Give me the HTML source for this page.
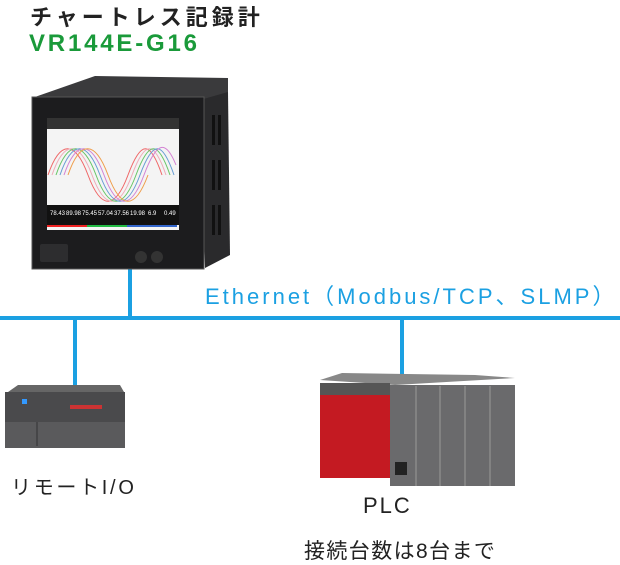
<!DOCTYPE html>
<html><head><meta charset="utf-8"><style>
body{margin:0;width:620px;height:559px;background:#fff;position:relative;overflow:hidden;font-family:"Liberation Sans","Noto Sans CJK JP",sans-serif}
.t{position:absolute;white-space:nowrap}
</style></head><body>
<div class="t" style="left:30px;top:0px;font-size:22px;font-weight:bold;color:#222;letter-spacing:4px">チャートレス記録計</div>
<div class="t" style="left:29px;top:30px;font-size:24px;font-weight:bold;color:#1a9a3a;letter-spacing:2.8px">VR144E-G16</div>
<svg width="620" height="559" style="position:absolute;left:0;top:0">
<rect x="0" y="316" width="620" height="4" fill="#1ba0e2"/>
<rect x="128" y="266" width="4" height="52" fill="#1ba0e2"/>
<rect x="73" y="318" width="4" height="68" fill="#1ba0e2"/>
<rect x="400" y="318" width="4" height="56" fill="#1ba0e2"/>
<polygon points="32,98 95,76 228,78 228,100 205,100" fill="#3a3a3c"/>
<polygon points="200,100 228,92 230,255 205,268" fill="#2a2a2c"/>
<g fill="#111"><rect x="212" y="115" width="3" height="30"/><rect x="218" y="115" width="3" height="30"/><rect x="212" y="160" width="3" height="30"/><rect x="218" y="160" width="3" height="30"/><rect x="212" y="205" width="3" height="30"/><rect x="218" y="205" width="3" height="30"/></g>
<rect x="32" y="97" width="172" height="172" fill="#1c1c1e" stroke="#555" stroke-width="1"/>
<rect x="47" y="118" width="132" height="112" fill="#f4f4f4"/>
<rect x="47" y="118" width="132" height="11" fill="#333"/>
<g fill="none" stroke-width="1" opacity="0.8">
<path d="M48,175 C60,140 75,140 88,175 S115,210 128,175 S150,140 162,175" stroke="#e44"/>
<path d="M52,175 C64,140 79,140 92,175 S119,210 132,175 S154,140 166,175" stroke="#e9a"/>
<path d="M56,175 C68,140 83,140 96,175 S123,210 136,175 S158,140 170,175" stroke="#4b4"/>
<path d="M60,175 C72,140 87,140 100,175 S127,210 140,175 S162,140 174,175" stroke="#48c"/>
<path d="M64,175 C76,140 91,140 104,175 S131,210 144,175 S166,140 176,165" stroke="#c6c"/>
<path d="M68,175 C80,140 95,140 108,175 S135,210 148,175" stroke="#e82"/>
</g>
<rect x="47" y="205" width="132" height="20" fill="#111"/>
<g fill="#fff" font-size="6"><text x="50" y="215">78.43</text><text x="66" y="215">89.98</text><text x="82" y="215">75.45</text><text x="98" y="215">57.04</text><text x="114" y="215">37.56</text><text x="130" y="215">19.98</text><text x="148" y="215">6.9</text><text x="164" y="215">0.49</text></g>
<rect x="47" y="225" width="40" height="2" fill="#e22"/><rect x="87" y="225" width="40" height="2" fill="#2b4"/><rect x="127" y="225" width="50" height="2" fill="#36c"/>
<rect x="40" y="244" width="28" height="18" rx="2" fill="#2d2d2f"/>
<circle cx="141" cy="257" r="6" fill="#333"/><circle cx="157" cy="257" r="6" fill="#333"/>
<polygon points="8,392 18,385 120,385 124,392" fill="#666"/>
<rect x="5" y="392" width="120" height="30" fill="#4a4a4c"/>
<rect x="70" y="405" width="32" height="4" fill="#c33"/>
<rect x="22" y="399" width="5" height="5" fill="#39f"/>
<rect x="5" y="422" width="120" height="26" fill="#5a5a5c"/>
<line x1="37" y1="422" x2="37" y2="446" stroke="#333"/>
<polygon points="320,380 342,373 475,375 515,378 395,385" fill="#888"/>
<rect x="320" y="383" width="70" height="95" fill="#c41a22"/>
<rect x="320" y="383" width="70" height="12" fill="#555"/>
<rect x="390" y="385" width="125" height="101" fill="#6a6a6c"/>
<g stroke="#999" stroke-width="1"><line x1="416" y1="386" x2="416" y2="486"/><line x1="440" y1="386" x2="440" y2="486"/><line x1="465" y1="386" x2="465" y2="486"/><line x1="490" y1="386" x2="490" y2="486"/></g>
<rect x="395" y="462" width="12" height="13" fill="#222"/>
</svg>
<div class="t" style="left:205px;top:279px;font-size:22px;color:#1ba0e2;letter-spacing:3px">Ethernet（Modbus/TCP、SLMP）</div>
<div class="t" style="left:11px;top:471px;font-size:20px;color:#222;letter-spacing:2.7px">リモートI/O</div>
<div class="t" style="left:363px;top:493px;font-size:22px;color:#222;letter-spacing:2px">PLC</div>
<div class="t" style="left:304px;top:535px;font-size:21px;color:#222;letter-spacing:1.4px">接続台数は8台まで</div>
</body></html>
